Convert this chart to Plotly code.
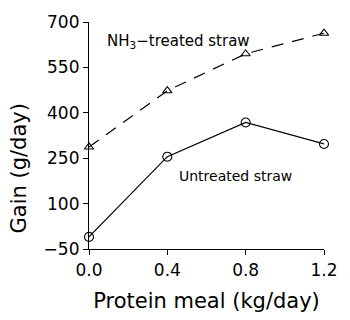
import plotly.graph_objects as go

protein = [0.0, 0.4, 0.8, 1.2]
untreated = [-10, 255, 368, 297]
nh3_treated = [287, 473, 595, 663]

x_ticks = [0.0, 0.4, 0.8, 1.2]
x_tick_labels = ["0.0", "0.4", "0.8", "1.2"]
y_ticks = [-50, 100, 250, 400, 550, 700]

FONT = "DejaVu Sans, Verdana, sans-serif"

fig = go.Figure()
fig.add_trace(go.Scatter(
    x=protein, y=nh3_treated, mode="lines+markers",
    line=dict(color="black", width=1.2, dash="12px,9px"),
    marker=dict(symbol="triangle-up-open", size=8, color="black", line=dict(width=1.1)),
    cliponaxis=False, showlegend=False,
))
fig.add_trace(go.Scatter(
    x=protein, y=untreated, mode="lines+markers",
    line=dict(color="black", width=1.2),
    marker=dict(symbol="circle-open", size=9, color="black", line=dict(width=1.1)),
    cliponaxis=False, showlegend=False,
))

fig.add_annotation(x=0.08, y=634, xref="x", yref="y", xanchor="left", yanchor="middle",
                   text="NH<sub>3</sub>−treated straw", showarrow=False,
                   font=dict(size=15, color="black"))
fig.add_annotation(x=0.45, y=191, xref="x", yref="y", xanchor="left", yanchor="middle",
                   text="Untreated straw", showarrow=False,
                   font=dict(size=14, color="black"))
# y-axis title, sits a little below the axis middle in the reference
fig.add_annotation(x=0, y=216, xref="paper", yref="y", xanchor="center", yanchor="middle",
                   xshift=-70, textangle=-90, text="Gain (g/day)", showarrow=False,
                   font=dict(size=21, color="black"))

axis_common = dict(showline=True, linecolor="black", linewidth=1.2, ticks="outside",
                   ticklen=5, tickwidth=1.1, tickcolor="black", showgrid=False,
                   zeroline=False, tickfont=dict(size=17, color="black"),
                   ticklabeloverflow="allow")
fig.update_xaxes(range=[0, 1.2], tickvals=x_ticks, ticktext=x_tick_labels,
                 title=dict(text="Protein meal (kg/day)", font=dict(size=21, color="black"), standoff=14),
                 **axis_common)
fig.update_yaxes(range=[-50, 700], tickvals=y_ticks, **axis_common)

fig.update_layout(
    width=350, height=320,
    margin=dict(l=89, r=21, t=12, b=71),
    paper_bgcolor="white", plot_bgcolor="white",
    font=dict(family=FONT, color="black"),
)

fig.write_html("out.html", config={"displayModeBar": False},
               post_script="document.body.style.margin='0';")
